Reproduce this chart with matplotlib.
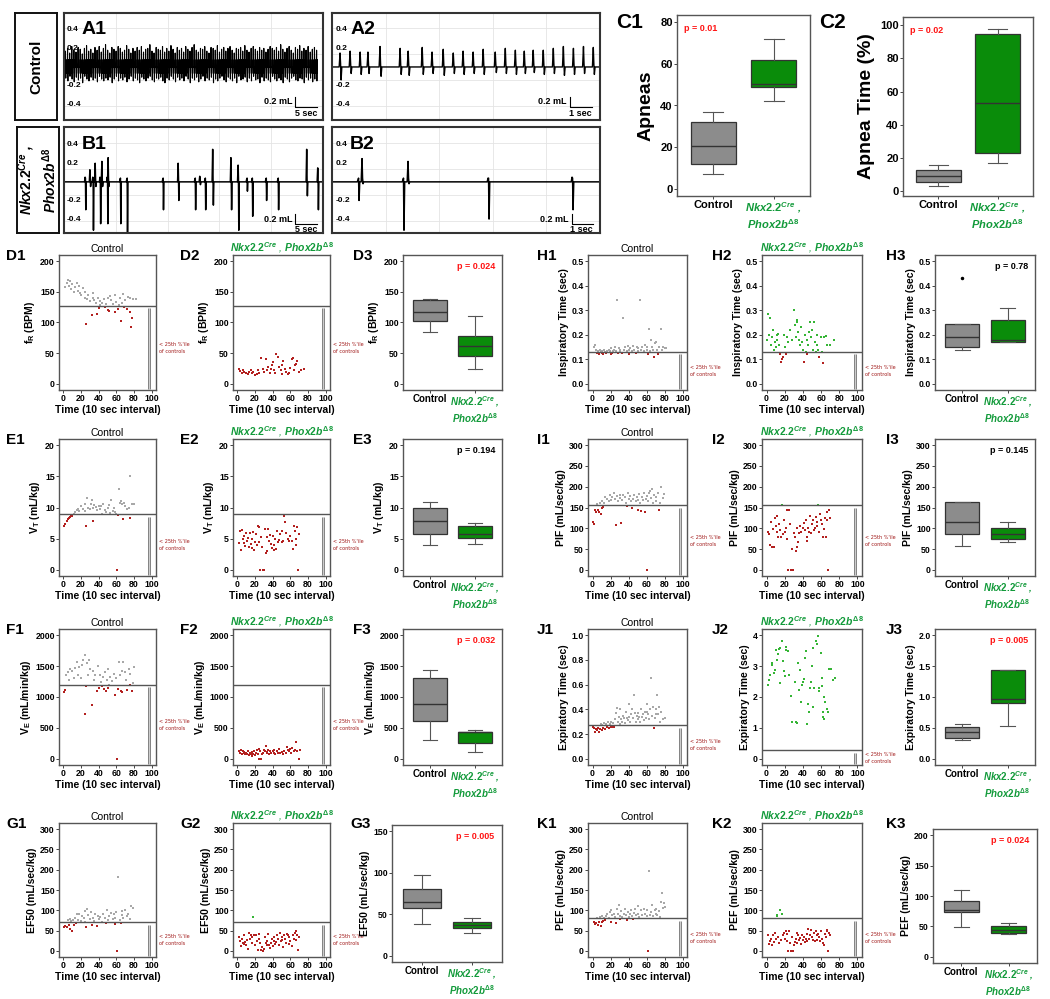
import numpy as np
import matplotlib
matplotlib.use("Agg")
import matplotlib.pyplot as plt
from matplotlib.lines import Line2D
import matplotlib.transforms as mtrans

plt.rcParams['font.family'] = ['Liberation Sans', 'DejaVu Sans']
plt.rcParams['font.weight'] = 'bold'
plt.rcParams['axes.labelweight'] = 'bold'
plt.rcParams['mathtext.fontset'] = 'custom'
plt.rcParams['mathtext.rm'] = 'Liberation Sans:bold'
plt.rcParams['mathtext.bf'] = 'Liberation Sans:bold'
plt.rcParams['mathtext.it'] = 'Liberation Sans:italic:bold'

#------------------------------------------------ data
# plethysmography traces: (time s, peak up mL, peak down mL)
a1_up = [0.17,0.2,0.15,0.22,0.18,0.16,0.21,0.19,0.14,0.2,0.23,0.17,0.19,0.15,0.21,0.18,0.22,0.16,0.2,0.24,
         0.18,0.15,0.21,0.19,0.17,0.22,0.2,0.16,0.18,0.23,0.19,0.15,0.2,0.17,0.21,0.18,0.22,0.16,0.19,0.2,
         0.24,0.17,0.15,0.21,0.19,0.18,0.22,0.16,0.2,0.17,0.23,0.19,0.15,0.21,0.18,0.2,0.16,0.22,0.19,0.17,
         0.21,0.24,0.18,0.16,0.2,0.19,0.22,0.17,0.15,0.21,0.2,0.18,0.23,0.16,0.19,0.21,0.17,0.2,0.22,0.18,
         0.15,0.2,0.19,0.21,0.17,0.23,0.18,0.16,0.2,0.22,0.19,0.17,0.21,0.18,0.2,0.16,0.19,0.22,0.2,0.18,
         0.21,0.17,0.24,0.19,0.16,0.2,0.22,0.18,0.15,0.21,0.19,0.23,0.17,0.2,0.18,0.22,0.16,0.19,0.21,0.18]
a1_dn = [0.12,0.15,0.1,0.13,0.16,0.11,0.14,0.12,0.17,0.1,0.13,0.15,0.11,0.14,0.12,0.16,0.1,0.13,0.15,0.12,
         0.14,0.11,0.17,0.13,0.1,0.15,0.12,0.14,0.11,0.16,0.13,0.1,0.15,0.12,0.14,0.17,0.11,0.13,0.15,0.12,
         0.1,0.14,0.16,0.12,0.13,0.11,0.15,0.17,0.12,0.14,0.1,0.13,0.16,0.11,0.14,0.12,0.15,0.1,0.13,0.17,
         0.12,0.14,0.11,0.16,0.13,0.1,0.15,0.12,0.14,0.11,0.17,0.13,0.15,0.12,0.1,0.14,0.16,0.11,0.13,0.15,
         0.12,0.17,0.1,0.14,0.13,0.11,0.16,0.12,0.15,0.1,0.14,0.13,0.17,0.11,0.15,0.12,0.14,0.16,0.1,0.13,
         0.15,0.12,0.14,0.17,0.11,0.13,0.16,0.12,0.1,0.14,0.15,0.12,0.13,0.17,0.11,0.14,0.12,0.16,0.13,0.15]
a1_period = 0.44

a2_t = [0.36,0.81,1.26,1.61,2.15,3.05,3.41,4.04,4.48,4.98,5.43,5.87,6.32,6.77,7.31,7.76,8.21,8.61,9.01,
        9.46,9.91,10.36,10.81,11.26,11.70]
a2_up = [0.15,0.17,0.16,0.16,0.22,0.2,0.17,0.21,0.16,0.19,0.15,0.17,0.16,0.19,0.16,0.2,0.18,0.17,0.18,
         0.18,0.2,0.22,0.2,0.22,0.21]
a2_dn = [0.14,0.07,0.08,0.07,0.1,0.08,0.09,0.08,0.07,0.09,0.07,0.08,0.07,0.08,0.06,0.07,0.08,0.07,0.06,
         0.08,0.07,0.09,0.08,0.07,0.08]

b1_t = [4.4,5.4,6.0,6.5,7.5,7.9,9.0,9.2,11.7,13.1,20.6,23.8,27.3,28.3,29.4,31.0,34.8,36.3,38.1,39.2,
        42.1,44.6,50.6,52.9]
b1_up = [0.05,0.13,0.05,0.2,0.05,0.22,0.05,0.26,0.03,0.03,0.03,0.2,0.03,0.06,0.03,0.35,0.26,0.18,0.03,
         0.03,0.03,0.03,0.35,0.15]
b1_dn = [0.3,0.05,0.52,0.05,0.45,0.05,0.45,0.05,0.45,0.55,0.3,0.2,0.3,0.03,0.3,0.25,0.3,0.52,0.1,0.37,
         0.2,0.3,0.15,0.3]

b2_t = [1.24,1.43,3.38,3.62,7.43,11.43]
b2_up = [0.02,0.25,0.02,0.22,0.04,0.05]
b2_dn = [0.2,0.02,0.52,0.02,0.4,0.3]

# apnea summary (box stats)
c1_ctrl = dict(whislo=7, q1=12, med=20.5, q3=32, whishi=37)
c1_mut = dict(whislo=42, q1=49, med=50.5, q3=62, whishi=72)
c2_ctrl = dict(whislo=3, q1=5.5, med=9, q3=12.5, whishi=16)
c2_mut = dict(whislo=17, q1=23, med=53, q3=95, whishi=98)

# per-interval breathing parameters (time index, value)
d1 = [(2,158),(4,165),(5,170),(6,160),(8,168),(9,155),(10,163),(12,150),(13,158),(15,165),(16,152),(18,160),
      (19,148),(20,145),(22,157),(24,140),(25,150),(26,97),(27,138),(28,145),(30,135),(32,112),(33,140),
      (34,148),(35,136),(37,131),(38,114),(39,140),(40,124),(41,135),(42,128),(44,132),(46,138),(47,125),
      (48,130),(50,120),(51,140),(52,118),(53,143),(54,137),(56,130),(58,117),(59,145),(60,133),(62,122),
      (63,128),(64,140),(65,102),(66,132),(68,147),(69,125),(70,136),(72,122),(73,142),(75,117),(76,140),
      (77,92),(78,107),(79,138),(82,138)]
d2 = [(2,24),(3,21),(5,18),(6,22),(8,20),(10,17),(12,16),(13,19),(15,22),(17,17),(18,20),(20,15),(22,16),
      (23,22),(25,17),(27,42),(29,25),(30,19),(32,41),(33,22),(35,28),(37,18),(38,24),(39,30),(40,36),
      (42,22),(43,17),(44,48),(46,44),(47,28),(49,22),(50,16),(51,30),(52,38),(54,24),(55,20),(57,16),
      (58,18),(60,26),(62,40),(63,42),(64,22),(65,30),(67,33),(68,38),(70,20),(72,22),(75,24)]
e1 = [(1,7.0),(2,7.3),(4,7.8),(5,8.1),(6,8.3),(8,8.4),(9,8.6),(10,8.7),(12,9.0),(13,9.3),(15,9.6),
      (17,9.8),(18,9.5),(20,10.2),(22,9.7),(24,10.5),(25,9.4),(26,7.0),(27,11.5),(28,10.0),(30,9.8),
      (31,10.6),(32,11.2),(33,7.8),(34,9.9),(35,10.4),(37,10.1),(38,9.6),(40,10.3),(42,9.8),(43,10.2),
      (44,8.9),(45,10.5),(47,9.6),(48,9.2),(50,10.0),(52,10.4),(53,9.1),(54,11.2),(56,9.5),(57,10.0),
      (58,9.3),(60,9.0),(61,0.0),(62,8.8),(63,13.0),(64,10.8),(65,11.0),(66,10.5),(68,8.2),(69,10.8),
      (70,10.2),(72,9.8),(74,10.0),(75,8.3),(76,15.1),(78,10.5),(80,10.6)]
e2 = [(2,4.3),(3,6.3),(4,3.1),(5,6.4),(6,5.0),(7,4.3),(8,5.5),(9,3.8),(10,5.9),(11,4.6),(12,5.1),
      (13,3.6),(14,5.9),(15,4.1),(16,3.5),(17,5.0),(18,6.0),(19,3.2),(20,4.4),(21,5.7),(22,3.9),(23,7.0),
      (24,4.5),(25,6.9),(26,0),(27,5.2),(28,3.7),(29,0),(30,0),(31,6.6),(32,2.7),(33,5.2),(34,3.0),
      (35,6.5),(36,4.7),(37,5.6),(38,4.2),(39,3.5),(40,5.5),(41,3.9),(42,3.2),(43,5.0),(44,3.3),(45,6.3),
      (46,4.5),(47,4.8),(48,5.7),(50,4.5),(51,6.3),(52,4.7),(53,8.7),(54,7.6),(55,5.9),(57,5.0),(58,4.6),
      (60,5.4),(62,4.6),(63,3.4),(64,7.1),(65,6.3),(66,5.0),(67,4.0),(68,6.9),(69,0),(70,5.7)]
f1 = [(1,1080),(2,1120),(3,1350),(5,1400),(6,1280),(8,1450),(10,1420),(12,1300),(13,1470),(15,1560),
      (16,1350),(18,1480),(20,1310),(21,1520),(22,1600),(24,1680),(25,720),(26,1180),(27,1550),(28,1350),
      (29,1600),(30,1450),(32,870),(33,1420),(35,1270),(36,1360),(38,1100),(39,1500),(40,1150),(41,1350),
      (43,1240),(44,1170),(45,1330),(46,1130),(47,1400),(48,1100),(49,1280),(50,1150),(51,1450),(52,1200),
      (53,1320),(55,1260),(57,1380),(59,1030),(60,1300),(61,0),(62,1130),(63,1570),(64,1350),(65,1090),
      (66,1420),(67,1080),(68,1560),(70,1400),(71,1280),(72,1120),(74,1450),(75,1190),(76,1380),(78,1100),
      (79,1230),(80,1480)]
f2 = [(2,130),(3,100),(4,150),(5,80),(6,120),(7,90),(8,110),(9,70),(10,100),(11,80),(12,120),(13,60),
      (14,90),(15,70),(16,110),(17,50),(18,80),(19,130),(20,60),(21,100),(22,150),(23,80),(24,0),(25,160),
      (26,130),(27,0),(28,80),(29,100),(30,140),(31,120),(32,200),(33,90),(34,110),(35,140),(36,80),
      (37,130),(38,100),(40,120),(41,90),(42,150),(43,80),(45,120),(46,100),(47,160),(48,90),(50,110),
      (52,70),(53,130),(55,100),(56,190),(57,150),(58,120),(60,160),(61,100),(62,180),(64,120),(65,140),
      (67,270),(68,130),(70,0),(71,140)]
g1 = [(1,60),(2,62),(4,58),(5,75),(6,65),(7,78),(8,55),(9,73),(10,48),(11,75),(12,64),(13,82),(14,68),
      (15,90),(17,77),(18,92),(20,74),(21,85),(23,80),(24,98),(25,72),(26,58),(27,104),(28,88),(30,78),
      (31,95),(32,65),(33,82),(35,74),(36,90),(38,62),(39,86),(40,78),(42,84),(44,72),(45,92),(47,80),
      (48,68),(49,100),(50,76),(52,86),(54,94),(56,78),(57,90),(58,66),(59,82),(60,95),(61,0),(62,183),
      (64,75),(65,69),(66,88),(67,98),(68,80),(70,100),(72,85),(73,92),(75,78),(77,110),(79,105)]
g2 = [(2,35),(3,25),(4,12),(5,30),(6,20),(7,17),(8,38),(9,22),(10,15),(11,28),(12,5),(13,45),(14,30),
      (15,40),(16,20),(17,35),(18,83),(19,40),(20,15),(21,38),(22,25),(23,3),(24,42),(25,30),(26,20),
      (27,2),(28,10),(29,0),(30,5),(31,35),(32,20),(33,15),(34,25),(35,42),(36,15),(37,8),(38,20),(39,30),
      (40,12),(41,25),(42,35),(43,18),(44,22),(45,40),(46,30),(47,15),(48,45),(49,25),(50,35),(51,28),
      (52,10),(53,38),(54,30),(55,20),(56,42),(57,40),(58,18),(59,35),(60,25),(62,12),(63,38),(64,30),
      (65,45),(66,28),(67,48),(68,40),(69,3),(70,35)]
h1 = [(2,0.15),(3,0.16),(4,0.14),(5,0.125),(6,0.135),(7,0.12),(8,0.14),(9,0.13),(10,0.125),(11,0.135),
      (12,0.12),(13,0.14),(14,0.13),(15,0.125),(16,0.135),(18,0.14),(19,0.135),(20,0.122),(21,0.145),
      (22,0.125),(23,0.135),(24,0.14),(25,0.15),(26,0.135),(27,0.34),(28,0.127),(29,0.145),(30,0.135),
      (31,0.14),(33,0.125),(34,0.27),(35,0.14),(36,0.15),(38,0.135),(39,0.155),(40,0.12),(41,0.14),
      (42,0.145),(44,0.135),(45,0.155),(46,0.14),(48,0.125),(49,0.15),(50,0.135),(51,0.145),(53,0.34),
      (54,0.14),(55,0.15),(57,0.135),(58,0.16),(60,0.14),(61,0.15),(62,0.12),(63,0.225),(64,0.135),
      (65,0.18),(66,0.15),(67,0.14),(68,0.11),(69,0.165),(70,0.17),(72,0.14),(73,0.12),(74,0.15),
      (76,0.225),(77,0.14),(78,0.15),(80,0.145),(82,0.145)]
h2 = [(1,0.18),(2,0.285),(3,0.2),(4,0.27),(5,0.16),(6,0.19),(7,0.22),(8,0.14),(9,0.17),(10,0.15),
      (11,0.2),(12,0.18),(13,0.205),(14,0.16),(15,0.12),(16,0.09),(17,0.1),(18,0.11),(19,0.2),(20,0.15),
      (21,0.12),(22,0.19),(24,0.17),(26,0.22),(28,0.18),(30,0.3),(31,0.24),(32,0.19),(33,0.25),(34,0.26),
      (35,0.21),(36,0.18),(37,0.16),(38,0.23),(39,0.17),(40,0.14),(41,0.09),(42,0.2),(43,0.13),(44,0.12),
      (45,0.18),(46,0.16),(47,0.21),(48,0.25),(49,0.19),(50,0.22),(51,0.14),(52,0.25),(53,0.17),(54,0.13),
      (55,0.2),(56,0.16),(57,0.14),(58,0.11),(60,0.19),(61,0.13),(62,0.085),(63,0.19),(65,0.195),(67,0.16),
      (70,0.16),(74,0.18)]
i1 = [(1,115),(2,110),(3,145),(4,140),(5,158),(6,145),(7,138),(8,160),(9,135),(10,165),(11,150),(12,152),
      (13,162),(14,175),(16,170),(18,165),(19,180),(21,168),(22,175),(24,185),(25,170),(26,108),(27,178),
      (28,165),(30,180),(31,172),(32,112),(33,168),(34,180),(36,175),(37,160),(38,153),(39,185),(40,170),
      (42,178),(43,165),(44,150),(45,170),(46,180),(48,165),(49,175),(50,145),(51,168),(52,182),(53,160),
      (54,142),(55,175),(56,168),(57,185),(58,138),(59,170),(60,178),(61,0),(62,165),(63,185),(64,190),
      (65,172),(66,195),(67,162),(68,180),(70,175),(71,165),(73,185),(74,143),(75,160),(76,200),(78,172),
      (79,182)]
i2 = [(2,90),(3,85),(4,60),(5,115),(6,55),(7,98),(8,55),(9,125),(10,105),(11,90),(12,130),(13,80),
      (14,110),(15,95),(16,78),(17,156),(18,85),(19,120),(20,90),(21,100),(22,145),(23,75),(24,0),
      (25,145),(26,110),(27,0),(28,50),(29,0),(30,88),(31,80),(32,45),(33,55),(34,100),(35,68),(36,88),
      (37,105),(38,90),(40,100),(41,112),(42,95),(43,120),(44,80),(45,70),(46,100),(47,92),(48,130),
      (49,88),(50,110),(51,120),(52,95),(53,100),(54,128),(55,105),(56,115),(57,156),(58,90),(59,135),
      (60,120),(61,110),(62,80),(63,98),(64,125),(65,78),(66,140),(67,120),(68,0),(69,145),(70,125)]
j1 = [(1,0.26),(2,0.25),(3,0.22),(4,0.24),(5,0.23),(6,0.25),(7,0.22),(8,0.24),(9,0.28),(10,0.23),
      (11,0.27),(12,0.25),(13,0.29),(14,0.24),(15,0.28),(16,0.26),(17,0.3),(18,0.25),(19,0.28),(20,0.26),
      (21,0.3),(22,0.255),(23,0.29),(24,0.26),(25,0.32),(26,0.37),(27,0.41),(28,0.3),(29,0.34),(30,0.28),
      (31,0.4),(32,0.32),(33,0.3),(34,0.35),(35,0.33),(36,0.29),(37,0.38),(38,0.33),(39,0.31),(40,0.44),
      (41,0.34),(42,0.3),(43,0.36),(44,0.4),(45,0.33),(46,0.52),(47,0.37),(48,0.3),(49,0.35),(50,0.32),
      (51,0.37),(52,0.34),(53,0.3),(54,0.4),(55,0.34),(56,0.36),(57,0.31),(58,0.38),(59,0.33),(60,0.44),
      (61,0.38),(62,0.36),(63,0.32),(64,0.4),(65,0.65),(66,0.35),(67,0.42),(68,0.25),(69,0.33),(70,0.36),
      (71,0.4),(72,0.52),(73,0.36),(74,0.42),(75,0.3),(76,0.38),(78,0.32),(80,0.33)]
j2 = [(1.8,2.4),(3,2.55),(3.6,2.7),(5.5,3.1),(6.5,3.05),(8,2.78),(9,2.88),(10,3.52),(11.6,3.2),
      (12.7,3.4),(13.8,3.55),(14.5,3.57),(15.3,2.45),(17.5,3.8),(18.2,3.17),(19,2.85),(20,2.67),(21,3.62),
      (21.8,3.52),(23.6,3.5),(24.7,2.72),(27,2.02),(28.4,1.18),(31,2.5),(32,1.2),(33.5,1.15),(34.5,3.1),
      (35.6,2.22),(36.4,2.88),(37.5,1.85),(39,2.4),(40,2.5),(40.7,2.58),(42,3.25),(43.6,3.5),(44.4,1.12),
      (45.5,1.77),(46.2,1.53),(47.3,2.3),(49,2.5),(50.2,3.0),(50.9,3.57),(51.6,1.67),(52.7,2.28),
      (54.5,3.8),(55.3,3.7),(56.4,3.97),(57.5,2.3),(58.2,2.2),(60,3.42),(60.7,2.6),(61,2.35),(61.8,1.5),
      (62.5,1.35),(62.9,1.3),(63.6,2.0),(64.7,1.85),(66.2,1.6),(67.3,1.5),(69,2.9),(71,2.9),(72.7,2.55),
      (75.6,2.63)]
k1 = [(2,70),(3,66),(4,68),(5,82),(6,64),(7,72),(8,84),(9,62),(10,70),(11,86),(12,74),(13,80),(14,76),
      (15,85),(16,90),(18,82),(19,96),(20,72),(21,100),(22,88),(24,92),(25,84),(26,68),(27,104),(28,90),
      (29,112),(30,78),(31,86),(32,98),(33,84),(35,92),(36,102),(37,88),(38,76),(39,96),(40,84),(42,90),
      (43,100),(44,86),(45,78),(46,94),(47,104),(48,88),(50,110),(51,92),(52,84),(54,100),(55,88),(57,104),
      (58,92),(60,86),(61,100),(62,0),(63,198),(64,88),(65,96),(66,112),(67,86),(69,100),(70,92),(71,104),
      (72,88),(74,98),(75,84),(76,120),(77,142),(78,106),(79,118),(80,108)]
k2 = [(2,40),(3,18),(4,25),(5,30),(6,15),(7,38),(8,22),(9,45),(10,30),(11,85),(12,88),(13,35),(14,20),
      (15,100),(16,28),(17,90),(18,40),(19,45),(20,30),(21,50),(22,25),(23,42),(24,0),(25,48),(26,20),
      (27,0),(28,35),(29,0),(30,15),(31,22),(32,30),(33,45),(34,20),(35,38),(36,28),(37,32),(38,18),
      (39,40),(40,28),(41,35),(42,22),(43,30),(44,42),(45,25),(46,55),(47,30),(48,40),(49,52),(50,35),
      (51,28),(52,45),(53,25),(54,50),(55,38),(56,28),(57,42),(58,35),(59,25),(60,48),(61,30),(62,20),
      (63,15),(64,42),(65,35),(66,48),(67,52),(68,0),(69,45),(70,38)]

# 25th percentile of controls per parameter
thr = dict(D=127, E=8.9, F=1200, G=70, H=0.13, I=155, J=0.27, K=80)

# group box stats (control, mutant) and p values
box_ctrl = dict(D=(84,103,117,136,139), E=(3.9,5.8,7.8,9.9,10.9), F=(310,610,890,1310,1430),
                G=(38,58,65,81,97), H=(0.14,0.15,0.19,0.245,0.245), I=(58,85,115,163,163),
                J=(0.31,0.33,0.43,0.52,0.56), K=(49,73,77,91,110))
box_mut = dict(D=(24,45,62,78,110), E=(4.2,5.1,5.7,7.0,7.5), F=(110,260,430,440,460),
               G=(28,33,37,41,46), H=(0.17,0.17,0.18,0.26,0.31), I=(67,73,86,101,116),
               J=(0.53,0.91,0.97,1.44,1.44), K=(37,39,45,50,55))
box_fliers = dict(H=[0.43])
pvals = dict(D='p = 0.024', E='p = 0.194', F='p = 0.032', G='p = 0.005',
             H='p = 0.78', I='p = 0.145', J='p = 0.005', K='p = 0.024')
sig = dict(D=True, E=False, F=True, G=True, H=False, I=False, J=True, K=True)

ylabels = dict(D=r'$\mathbf{f_R}$ (BPM)', E=r'$\mathbf{V_T}$ (mL/kg)', F=r'$\mathbf{V_E}$ (mL/min/kg)',
               G='EF50 (mL/sec/kg)', H='Inspiratory Time (sec)', I='PIF (mL/sec/kg)',
               J='Expiratory Time (sec)', K='PEF (mL/sec/kg)')
# axis ranges (scatter1, scatter2, box) and tick step
yr = dict(D=((0,200),(0,200),(0,200),50), E=((0,20),(0,20),(0,20),5), F=((0,2000),(0,2000),(0,2000),500),
          G=((0,300),(0,300),(0,150),50), H=((0,0.5),(0,0.5),(0,0.5),0.1), I=((0,300),(0,300),(0,300),50),
          J=((0,1.0),(0,4),(0,2),None), K=((0,300),(0,300),(0,200),50))
pts = dict(D=(d1,d2), E=(e1,e2), F=(f1,f2), G=(g1,g2), H=(h1,h2), I=(i1,i2), J=(j1,j2), K=(k1,k2))

#------------------------------------------------ style
GRAY_PT = '#a8a8a8'
RED = '#b3201f'
GREEN_PT = '#35b535'
GRAY_BOX = '#8c8c8c'
GREEN_BOX = '#0a8c0a'
GREEN_TXT = '#129a3a'
PRED = '#ff1414'
MUT = r'$\mathit{Nkx2.2^{Cre}}$ , $\mathit{Phox2b^{\Delta 8}}$'
MUT2 = r'$\mathit{Nkx2.2^{Cre}}$ ,' + '\n' + r'$\mathit{Phox2b^{\Delta 8}}$'

W, H = 1050, 999
fig = plt.figure(figsize=(W/100, H/100), dpi=100)


def ax_px(x0, y0, x1, y1):
    return fig.add_axes([x0/W, 1-y1/H, (x1-x0)/W, (y1-y0)/H])


def fig_txt(x, y, s, **kw):
    fig.text(x/W, 1-y/H, s, **kw)


def fig_line(xs, ys, **kw):
    fig.add_artist(Line2D([x/W for x in xs], [1-y/H for y in ys], transform=fig.transFigure, **kw))


def frame(ax, col='#555555', lw=1.0):
    for s in ax.spines.values():
        s.set_color(col)
        s.set_linewidth(lw)
    ax.tick_params(length=2, width=0.7, color='#444444', labelsize=6.3, pad=1)


def ticks_for(lo, hi, step):
    if step is None:
        step = (hi-lo)/5 if hi <= 1 else (hi-lo)/4
    return np.arange(lo, hi + step/2, step)


def fmt_ticks(ax, ticks):
    ax.set_yticks(ticks)
    if ticks[-1] <= 1.01 or (ticks[1]-ticks[0]) < 1:
        ax.set_yticklabels(['%.1f' % t for t in ticks])
    else:
        ax.set_yticklabels(['%d' % t for t in ticks])


#------------------------------------------------ traces
def wave(times, ups, dns, w, dense=False):
    xs, ys = [], []
    for t, u, d in zip(times, ups, dns):
        if dense:
            xs += [t-w, t, t+w*0.5, t+w*1.0, t+w*1.6, t+w*2.2, t+w*2.8, t+w*3.4]
            ys += [0, u, 0.07, -0.06, -d, 0.08, -0.07, 0]
        else:
            xs += [t-w, t, t+w*0.6, t+w*1.2, t+w*2]
            ys += [0, u, 0.04, -d, 0]
    return xs, ys


def trace_panel(rect, tmax, ylim, xs, ys, name, lw):
    ax = ax_px(*rect)
    ax.set_xlim(0, tmax)
    ax.set_ylim(*ylim)
    for gx in np.linspace(0, tmax, 6)[1:-1]:
        ax.axvline(gx, color='#e4e4e4', lw=0.6, zorder=0)
    for gy in (-0.42, -0.14, 0.14, 0.42):
        ax.axhline(gy, color='#e4e4e4', lw=0.6, zorder=0)
    ax.plot(xs, ys, color='k', lw=lw)
    ax.set_xticks([])
    ax.set_yticks([])
    tr = mtrans.blended_transform_factory(ax.transAxes, ax.transData)
    for v, s in ((0.4, '0.4'), (0.2, '0.2'), (-0.2, '-0.2'), (-0.4, '-0.4')):
        ax.text(0.012, v, s, transform=tr, fontsize=6, ha='left', va='center')
    ax.text(0.068, 0.4, name, transform=tr, fontsize=14, ha='left', va='center')
    for s in ax.spines.values():
        s.set_color('#333333')
        s.set_linewidth(1.5)
    return ax


a1_t = np.arange(len(a1_up)) * a1_period + 0.3
x, y = wave(a1_t, a1_up, a1_dn, 0.045, dense=True)
trace_panel((64, 13, 323, 120), 54, (-0.57, 0.58), x, y, 'A1', 0.8)
x, y = wave(a2_t, a2_up, a2_dn, 0.04)
trace_panel((332, 13, 600, 120), 12.0, (-0.57, 0.58), [0]+x+[12], [0]+y+[0], 'A2', 1.0)
x, y = wave(b1_t, b1_up, b1_dn, 0.12)
trace_panel((64, 127, 323, 233), 54, (-0.55, 0.59), [0]+x+[54], [0]+y+[0], 'B1', 1.1)
x, y = wave(b2_t, b2_up, b2_dn, 0.04)
trace_panel((332, 127, 600, 233), 12.76, (-0.55, 0.59), [0]+x+[12.76], [0]+y+[0], 'B2', 1.1)

# scale bars
for (tx, ty, bx0, bx1, by, lab) in ((292, 102, 295, 317, 107, '5 sec'), (567, 102, 570, 592, 107, '1 sec'),
                                     (292, 220, 295, 317, 224, '5 sec'), (569, 220, 572, 593, 224, '1 sec')):
    fig_txt(tx, ty, '0.2 mL', ha='right', va='center', fontsize=6.5)
    fig_line([bx0, bx0, bx1], [by-10, by, by], color='k', lw=0.8)
    fig_txt(bx1, by+6, lab, ha='right', va='center', fontsize=6.5)

# row labels
for rect, s, st, fs in (((15, 13, 57, 120), 'Control', 'normal', 11),
                        ((17, 127, 59, 233), MUT2, 'italic', 10)):
    ax = ax_px(*rect)
    ax.set_xticks([])
    ax.set_yticks([])
    for sp in ax.spines.values():
        sp.set_linewidth(1.4)
        sp.set_color('#111111')
    ax.text(0.5, 0.5, s, rotation=90, ha='center', va='center', fontsize=fs, fontstyle=st,
            multialignment='center', transform=ax.transAxes)


#------------------------------------------------ box panels
def box_panel(rect, sc, sm, fl, ylim, ticks, ylabel, ptxt, pcol, pleft=False, big=False):
    ax = ax_px(*rect)
    stats = []
    for s, f in ((sc, fl), (sm, [])):
        stats.append(dict(whislo=s[0], q1=s[1], med=s[2], q3=s[3], whishi=s[4], fliers=f))
    bp = ax.bxp(stats, positions=[1, 2], widths=0.75, patch_artist=True, showfliers=True,
                capwidths=0.33,
                boxprops=dict(edgecolor='#333333', linewidth=0.9),
                medianprops=dict(color='#333333', linewidth=1.0),
                whiskerprops=dict(color='#555555', linewidth=0.8),
                capprops=dict(color='#555555', linewidth=0.8),
                flierprops=dict(marker='o', markersize=1.5, markerfacecolor='k', markeredgecolor='k'))
    bp['boxes'][0].set_facecolor(GRAY_BOX)
    bp['boxes'][1].set_facecolor(GREEN_BOX)
    pad = (ylim[1]-ylim[0])*0.05
    ax.set_ylim(ylim[0]-pad, ylim[1]+pad)
    ax.set_xlim(0.4, 2.6)
    frame(ax)
    fmt_ticks(ax, ticks)
    fs = 8 if big else 7
    if big:
        ax.tick_params(labelsize=8)
    ax.set_xticks([1, 2])
    ax.set_xticklabels(['Control', MUT2], fontsize=fs)
    ax.get_xticklabels()[1].set_color(GREEN_TXT)
    ax.get_xticklabels()[1].set_fontstyle('italic')
    if big:
        ax.set_ylabel(ylabel, fontsize=14, labelpad=4)
    else:
        ax.set_ylabel(ylabel, fontsize=7.5, labelpad=2)
    if pleft:
        ax.text(0.05, 0.95, ptxt, transform=ax.transAxes, color=pcol, fontsize=6.5, ha='left', va='top')
    else:
        ax.text(0.93, 0.95, ptxt, transform=ax.transAxes, color=pcol, fontsize=6.5, ha='right', va='top')
    return ax


keys5 = ('whislo', 'q1', 'med', 'q3', 'whishi')
ax = box_panel((677, 15, 810, 196), tuple(c1_ctrl[k] for k in keys5), tuple(c1_mut[k] for k in keys5), [],
               (0, 80), [0, 20, 40, 60, 80], 'Apneas', 'p = 0.01', PRED, pleft=True, big=True)
ax.set_ylim(-3.5, 83.5)
ax = box_panel((903, 17, 1033, 196), tuple(c2_ctrl[k] for k in keys5), tuple(c2_mut[k] for k in keys5), [],
               (0, 100), [0, 20, 40, 60, 80, 100], 'Apnea Time (%)', 'p = 0.02', PRED, pleft=True, big=True)
ax.set_ylim(-3, 105)
fig_txt(616, 22, 'C1', fontsize=15, ha='left', va='center')
fig_txt(819, 22, 'C2', fontsize=15, ha='left', va='center')


#------------------------------------------------ scatter panels
def scatter_panel(rect, data, t, ylim, step, ylabel, mutant, title):
    ax = ax_px(*rect)
    xs = np.array([p[0] for p in data], float)
    ys = np.array([p[1] for p in data], float)
    hi = ys >= t
    ax.scatter(xs[hi], ys[hi], s=3.5, marker='s', c=GREEN_PT if mutant else GRAY_PT, linewidths=0)
    ax.scatter(xs[~hi], ys[~hi], s=3.5, marker='s', c=RED, linewidths=0)
    pad = (ylim[1]-ylim[0])*0.05
    lo = ylim[0]-pad
    ax.set_ylim(lo, ylim[1]+pad)
    ax.set_xlim(-5, 105)
    ax.axhline(t, color='#555555', lw=1.0)
    ax.plot([97, 97], [t-pad*0.35, lo+pad*0.15], color='#777777', lw=2.0, solid_capstyle='butt')
    ax.plot([97, 97], [t-pad*0.35, lo+pad*0.15], color='#f2f2f2', lw=0.5)
    tr = mtrans.blended_transform_factory(ax.transAxes, ax.transData)
    ax.text(1.03, (t+lo)/2, "< 25th %'ile\nof controls", transform=tr, fontsize=4.0, color='#a01818',
            family='DejaVu Sans', fontstretch='condensed', fontweight='normal',
            ha='left', va='center', linespacing=1.6)
    frame(ax)
    ax.set_xticks([0, 20, 40, 60, 80, 100])
    fmt_ticks(ax, ticks_for(ylim[0], ylim[1], step))
    ax.set_xlabel('Time (10 sec interval)', fontsize=7.5, labelpad=1)
    ax.set_ylabel(ylabel, fontsize=7.5, labelpad=2)
    ax.set_title(title, fontsize=7.5, pad=2, color=GREEN_TXT if mutant else 'k',
                 fontstyle='italic' if mutant else 'normal')
    return ax


rows_y = {'D': (255, 390), 'E': (439, 576), 'F': (629, 765), 'G': (823, 957),
          'H': (255, 390), 'I': (439, 576), 'J': (629, 765), 'K': (823, 957)}
left_cols = ((59, 156), (233, 330), (403, 502))
right_cols = ((588, 687), (762, 862), (935, 1035))
label_x_left = (6, 180, 353)
label_x_right = (537, 712, 886)

for key in 'DEFGHIJK':
    y0, y1 = rows_y[key]
    cols = left_cols if key in 'DEFG' else right_cols
    lx = label_x_left if key in 'DEFG' else label_x_right
    r1, r2, rb, step = yr[key]
    p1, p2 = pts[key]
    scatter_panel((cols[0][0], y0, cols[0][1], y1), p1, thr[key], r1, step if key != 'J' else 0.2,
                  ylabels[key], False, 'Control')
    scatter_panel((cols[1][0], y0, cols[1][1], y1), p2, thr[key], r2, step if key != 'J' else 1,
                  ylabels[key], True, MUT)
    brect = (cols[2][0], y0, cols[2][1], y1)
    if key == 'G':
        brect = (392, 825, 502, 962)
    if key == 'K':
        brect = (933, 829, 1037, 963)
    bstep = step if key != 'J' else 0.5
    box_panel(brect, box_ctrl[key], box_mut[key], box_fliers.get(key, []), rb,
              ticks_for(rb[0], rb[1], bstep), ylabels[key], pvals[key], PRED if sig[key] else 'k')
    for i in range(3):
        xl = lx[i] - 3 if (key == 'G' and i == 2) else lx[i]
        fig_txt(xl, y0 + 1, key + str(i+1), fontsize=11, ha='left', va='center')

fig.savefig('out.png', dpi=100)
